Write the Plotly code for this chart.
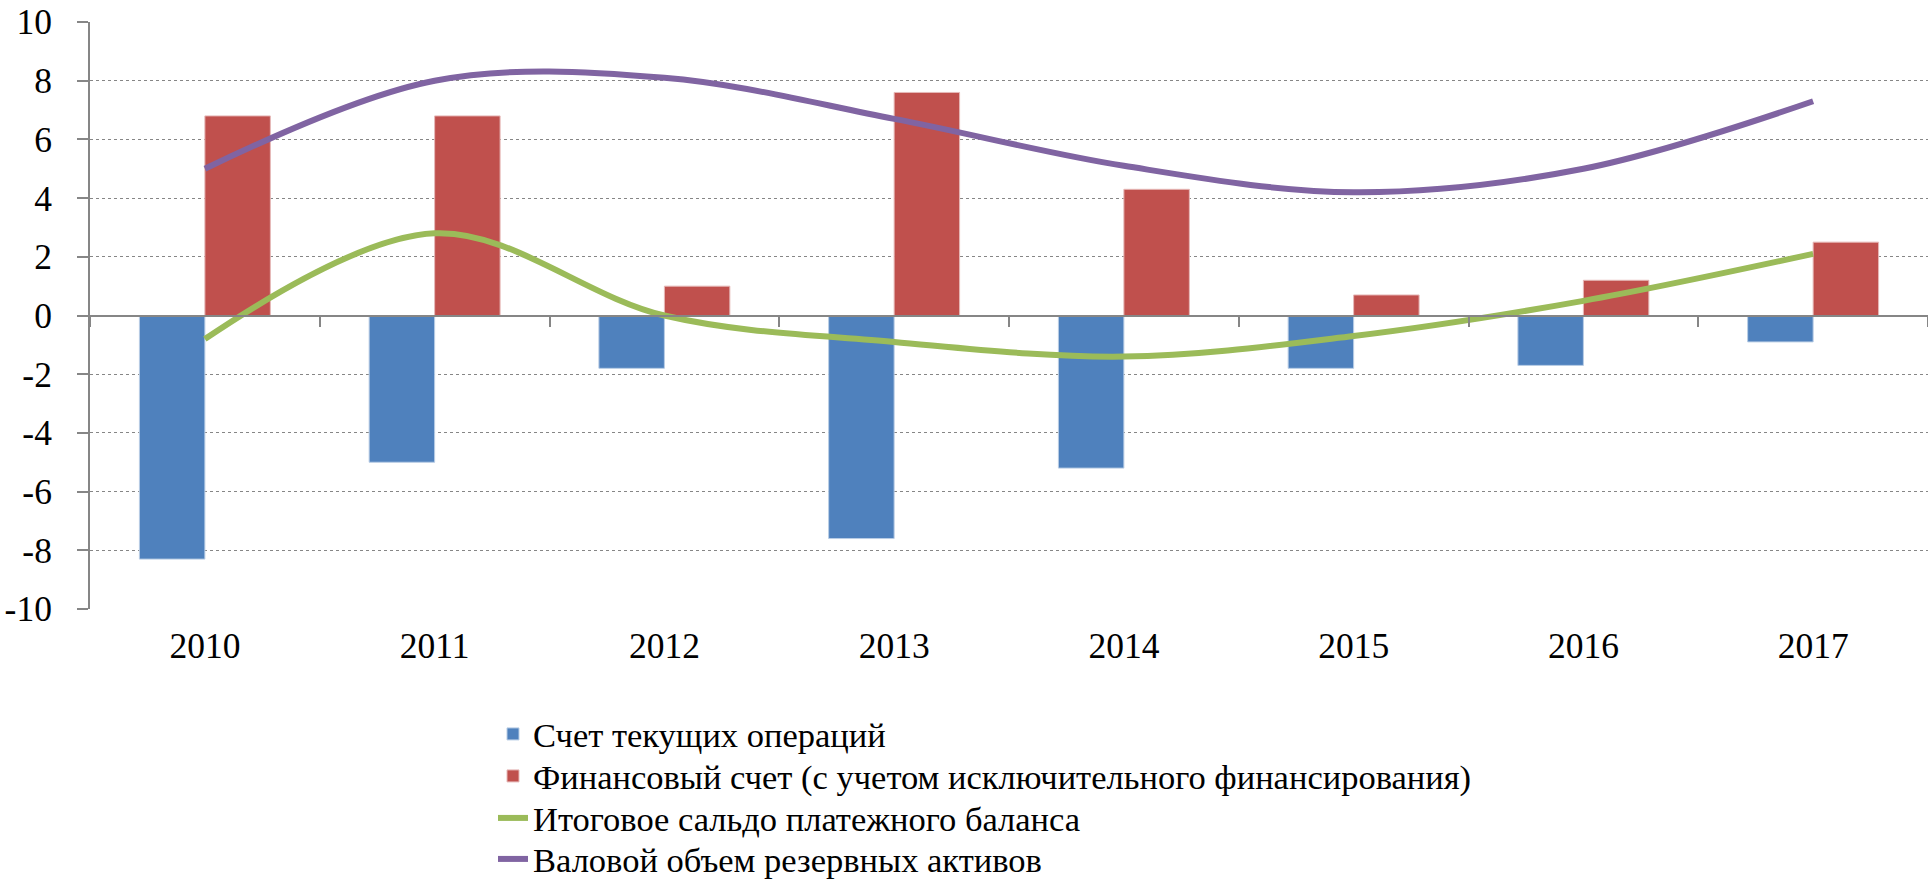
import plotly.graph_objects as go

years = ["2010", "2011", "2012", "2013", "2014", "2015", "2016", "2017"]
current_account = [-8.3, -5.0, -1.8, -7.6, -5.2, -1.8, -1.7, -0.9]
financial_account = [6.8, 6.8, 1.0, 7.6, 4.3, 0.7, 1.2, 2.5]
overall_balance = [-0.8, 2.8, 0.0, -0.9, -1.4, -0.7, 0.5, 2.1]
gross_reserves = [5.0, 8.0, 8.1, 6.7, 5.1, 4.2, 5.0, 7.3]
y_ticks = [10, 8, 6, 4, 2, 0, -2, -4, -6, -8, -10]
y_tick_labels = ["10", "8", "6", "4", "2", "0", "-2", "-4", "-6", "-8", "-10"]

names = [
    "Счет текущих операций",
    "Финансовый счет (с учетом исключительного финансирования)",
    "Итоговое сальдо платежного баланса",
    "Валовой объем резервных активов",
]

FONT = "Liberation Serif, Times New Roman, DejaVu Serif, serif"
GRAY = "#868686"

W, H = 1928, 881
ML, MR, MT, MB = 90, 0, 22, 272
plot_h = H - MT - MB
legend_rows_px = [734, 776, 818, 859]
legend_y = [(H - MB - r) / plot_h for r in legend_rows_px]
legend_x = (493 - ML) / (W - ML - MR)

fig = go.Figure()
fig.add_trace(go.Bar(x=years, y=current_account, name=names[0], legend="legend",
                     marker=dict(color="#4F81BD", line=dict(color="#B9CDE5", width=1))))
fig.add_trace(go.Bar(x=years, y=financial_account, name=names[1], legend="legend2",
                     marker=dict(color="#C0504D", line=dict(color="#E6B9B8", width=1))))
fig.add_trace(go.Scatter(x=years, y=overall_balance, name=names[2], mode="lines", legend="legend3",
                         line=dict(color="#9BBB59", width=6, shape="spline", smoothing=1)))
fig.add_trace(go.Scatter(x=years, y=gross_reserves, name=names[3], mode="lines", legend="legend4",
                         line=dict(color="#8064A2", width=6, shape="spline", smoothing=1)))
# helper trace for the category axis drawn at y = 0
fig.add_trace(go.Scatter(x=years, y=[None] * len(years), xaxis="x2", showlegend=False,
                         hoverinfo="skip", mode="lines"))

leg_common = dict(xanchor="left", yanchor="middle", orientation="v",
                  font=dict(family=FONT, size=34.5, color="black"),
                  bgcolor="rgba(0,0,0,0)", itemwidth=30, borderwidth=0)

fig.update_layout(
    width=W, height=H,
    margin=dict(l=ML, r=MR, t=MT, b=MB, autoexpand=False),
    paper_bgcolor="white", plot_bgcolor="white",
    barmode="group", bargap=0.43, bargroupgap=0,
    font=dict(family=FONT, size=35.5, color="black"),
    xaxis=dict(type="category", categoryarray=years, range=[-0.5, 7.5],
               showline=False, showgrid=False, zeroline=False, automargin=False,
               ticks="outside", ticklen=5, tickcolor="rgba(0,0,0,0)",
               tickfont=dict(family=FONT, size=35.5, color="black")),
    xaxis2=dict(type="category", categoryarray=years, range=[-0.5, 7.5],
                overlaying="x", anchor="free", position=0.5, side="bottom",
                showline=True, linecolor=GRAY, linewidth=2, automargin=False,
                ticks="outside", tickson="boundaries", ticklen=10, tickwidth=1.5,
                tickcolor=GRAY, showticklabels=False, showgrid=False, zeroline=False),
    yaxis=dict(range=[-10, 10], tickvals=y_ticks, ticktext=y_tick_labels,
               showline=True, linecolor=GRAY, linewidth=2, automargin=False,
               ticks="outside", ticklen=11, tickwidth=2, tickcolor=GRAY,
               showgrid=True, gridcolor=GRAY, griddash="dot", gridwidth=1,
               zeroline=False, ticklabelstandoff=18,
               tickfont=dict(family=FONT, size=35.5, color="black")),
    legend=dict(x=legend_x, y=legend_y[0], **leg_common),
    legend2=dict(x=legend_x, y=legend_y[1], **leg_common),
    legend3=dict(x=legend_x, y=legend_y[2], **leg_common),
    legend4=dict(x=legend_x, y=legend_y[3], **leg_common),
    showlegend=True,
)

fig.write_html("out.html",
               config={"displayModeBar": False},
               post_script="document.body.style.margin='0';document.body.style.overflow='hidden';")
